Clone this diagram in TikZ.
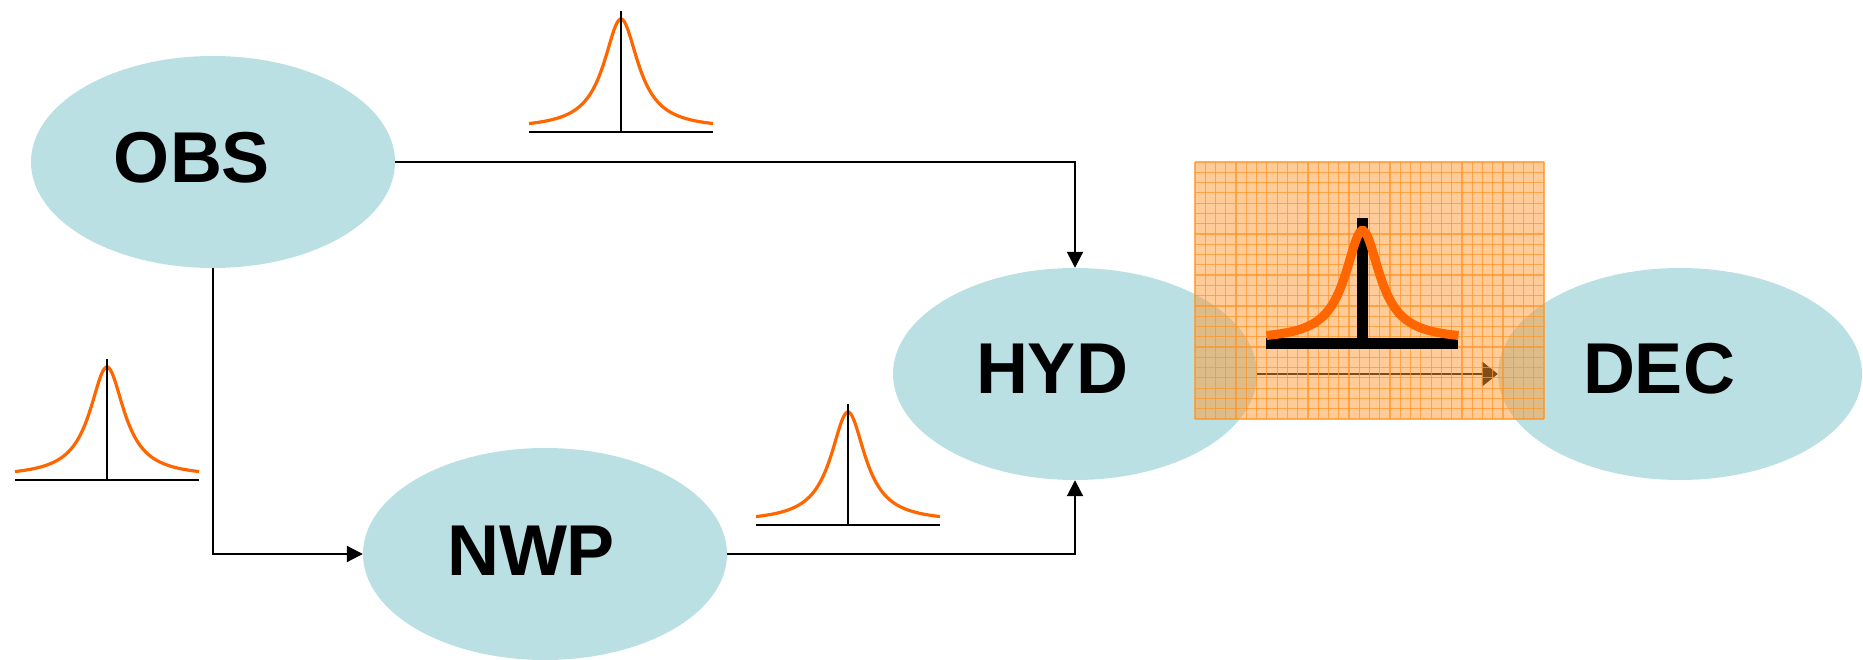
\documentclass[tikz,border=0pt]{standalone}
\usepackage{fontspec}
\setmainfont{Liberation Sans}
\usetikzlibrary{shapes.geometric,arrows.meta}
\definecolor{ellcol}{RGB}{187,224,227}
\definecolor{curvecol}{RGB}{255,102,0}
\definecolor{boxcol}{RGB}{255,153,51}
\definecolor{gridcol}{RGB}{255,150,40}
\begin{document}
\begin{tikzpicture}[x=1pt,y=-1pt,
  blob/.style={ellipse,fill=ellcol,draw=none,minimum width=364pt,minimum height=212pt,inner sep=0pt},
  lbl/.style={inner sep=0pt,font=\fontsize{72}{80}\selectfont\bfseries},
  conn/.style={line width=2pt,-{Triangle[length=16pt,width=16pt]}},
  gridline/.style={draw=gridcol,line width=1.2pt,opacity=0.75},
  smalldist/.pic={
    \draw[curvecol,line width=3.2pt] plot[domain=-92:92,samples=90,smooth] (\x,{-(3+110/(1+(\x/21)^2))});
    \draw[black,line width=2.6pt] (-92,0) -- (92,0);
    \draw[black,line width=2.6pt] (0,0) -- (0,-121);
  }]
\useasboundingbox (0,0) rectangle (1863,660);
% ellipses
\node[blob] (obs) at (213,162) {};
\node[blob] (nwp) at (545,554) {};
\node[blob] (hyd) at (1075,374) {};
\node[blob] (dec) at (1680,374) {};
% labels
\node[lbl] (obsl) at (192,158) {OBS};
\node[lbl] (nwpl) at (531,551) {NWP};
\node[lbl] (hydl) at (1052,369) {HYD};
\node[lbl] (decl) at (1659,369) {DEC};
% connectors
\draw[conn] (obs.east) -| (hyd.north);
\draw[conn] (obs.south) |- (nwp.west);
\draw[conn] (nwp.east) -| (hyd.south);
\draw[line width=2pt,-{Triangle[length=16pt,width=25pt]}] (hyd.east) -- (dec.west);
% small distributions
\pic (d1) at (621,132) {smalldist};
\pic (d2) at (107,480) {smalldist};
\pic (d3) at (848,525) {smalldist};
% orange grid box
\fill[boxcol,opacity=0.5] (1195,162) rectangle (1544,419);
\foreach \i in {0,...,34} \draw[gridline] ({1195+\i*349/34},162) -- ++(0,257);
\foreach \j in {0,...,25} \draw[gridline] (1195,{162+\j*257/25}) -- ++(349,0);
% big distribution
\draw[black,line width=11pt] (1266,343.5) -- (1458,343.5);
\draw[black,line width=11pt] (1362.5,218) -- (1362.5,343.5);
\draw[curvecol,line width=9pt] plot[domain=-96:96,samples=100,smooth] ({1362.5+\x},{343.5-(3+110/(1+(\x/21)^2))});
\end{tikzpicture}
\end{document}
